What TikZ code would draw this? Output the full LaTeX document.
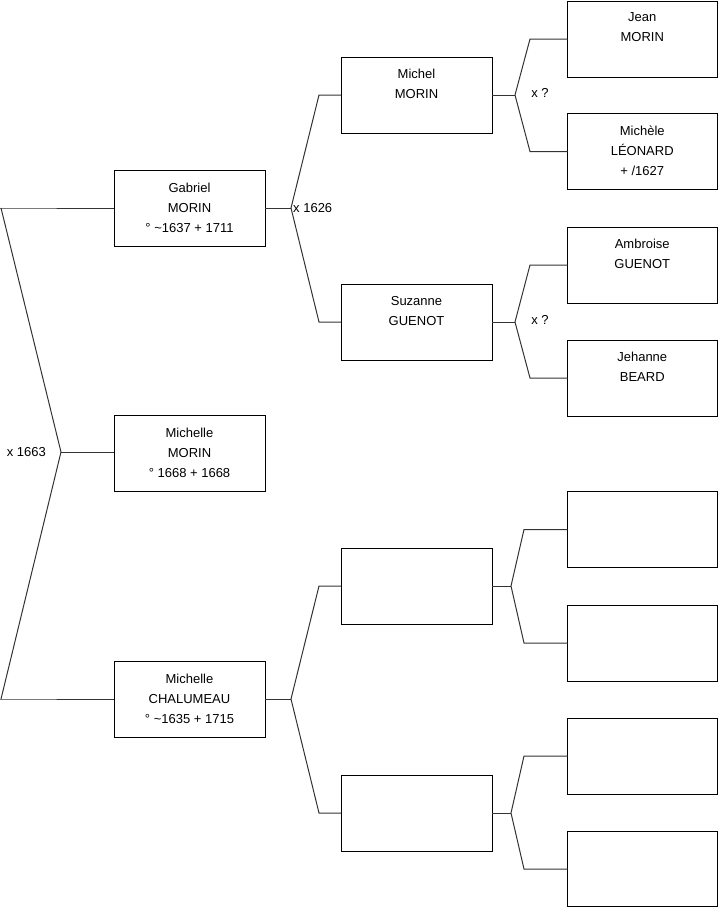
\documentclass[tikz,border=0pt]{standalone}
\usepackage{fontspec}
\setmainfont{Liberation Sans}
\begin{document}
\begin{tikzpicture}[x=1pt,y=-1pt,
  box/.style={draw=black, line width=1pt, minimum width=151pt, minimum height=76pt, inner sep=0pt, outer sep=0pt, anchor=north west},
  rbox/.style={box, minimum width=149.5pt},
  txt/.style={anchor=north, inner sep=0pt, align=center, font=\fontsize{13}{20}\selectfont},
  lbl/.style={inner sep=0pt, font=\fontsize{13}{16}\selectfont},
  conn/.style={draw=black!80, line width=1pt}]
\useasboundingbox (0,0) rectangle (719,908);
% generation 1
\node[box] (g1) at (114,170) {};
\node[box] (g2) at (114,415.5) {};
\node[box] (g3) at (114,661) {};
% generation 2
\node[box] (p1) at (341,57) {};
\node[box] (p2) at (341,284) {};
\node[box] (p3) at (341,548) {};
\node[box] (p4) at (341,775) {};
% generation 3
\node[rbox] (a1) at (567.5,1) {};
\node[rbox] (a2) at (567.5,113.5) {};
\node[rbox] (a3) at (567.5,227) {};
\node[rbox] (a4) at (567.5,340) {};
\node[rbox] (a5) at (567.5,491.5) {};
\node[rbox] (a6) at (567.5,605) {};
\node[rbox] (a7) at (567.5,718) {};
\node[rbox, minimum height=75pt] (a8) at (567.5,831.5) {};
% texts
\node[txt] (tg1) at ([yshift=-12.5pt]g1.north) {Gabriel\\MORIN\\° \textasciitilde 1637 + 1711};
\node[txt] (tg2) at ([yshift=-12.5pt]g2.north) {Michelle\\MORIN\\° 1668 + 1668};
\node[txt] (tg3) at ([yshift=-12.5pt]g3.north) {Michelle\\CHALUMEAU\\° \textasciitilde 1635 + 1715};
\node[txt] (tp1) at ([yshift=-12pt]p1.north) {Michel\\MORIN};
\node[txt] (tp2) at ([yshift=-12pt]p2.north) {Suzanne\\GUENOT};
\node[txt] (ta1) at ([yshift=-11pt]a1.north) {Jean\\MORIN};
\node[txt] (ta2) at ([yshift=-12pt]a2.north) {Michèle\\LÉONARD\\+ /1627};
\node[txt] (ta3) at ([yshift=-12pt]a3.north) {Ambroise\\GUENOT};
\node[txt] (ta4) at ([yshift=-12pt]a4.north) {Jehanne\\BEARD};
% junction coordinates
\coordinate (c0a) at (1,208);
\coordinate (v0) at (61,452);
\coordinate (c0b) at (1,699);
\coordinate (v1) at (291,208);
\coordinate (c1a) at (319,95);
\coordinate (c1b) at (319,322);
\coordinate (v2) at (291,699);
\coordinate (c2a) at (319,586);
\coordinate (c2b) at (319,813);
\coordinate (v3) at (515,95);
\coordinate (c3a) at (530,39);
\coordinate (c3b) at (530,151.5);
\coordinate (v4) at (515,322);
\coordinate (c4a) at (530,265);
\coordinate (c4b) at (530,378);
\coordinate (v5) at (511,586);
\coordinate (c5a) at (524,529.5);
\coordinate (c5b) at (524,643);
\coordinate (v6) at (511,813);
\coordinate (c6a) at (524,756);
\coordinate (c6b) at (524,869);
% connectors
\draw[conn] (0,208) -- (c0a) -- (g1.west);
\draw[conn] (0,699) -- (c0b) -- (g3.west);
\draw[conn] (c0a) -- (v0) -- (c0b);
\draw[conn] (v0) -- (g2.west |- v0);
\draw[conn] (g1.east) -- (v1);
\draw[conn] (p1.west) -- (c1a) -- (v1) -- (c1b) -- (p2.west);
\draw[conn] (g3.east) -- (v2);
\draw[conn] (p3.west) -- (c2a) -- (v2) -- (c2b) -- (p4.west);
\draw[conn] (p1.east) -- (v3);
\draw[conn] (a1.west) -- (c3a) -- (v3) -- (c3b) -- (a2.west);
\draw[conn] (p2.east) -- (v4);
\draw[conn] (a3.west) -- (c4a) -- (v4) -- (c4b) -- (a4.west);
\draw[conn] (p3.east) -- (v5);
\draw[conn] (a5.west) -- (c5a) -- (v5) -- (c5b) -- (a6.west);
\draw[conn] (p4.east) -- (v6);
\draw[conn] (a7.west) -- (c6a) -- (v6) -- (c6b) -- (a8.west);
% marriage labels
\node[lbl, anchor=east] (m0) at ([xshift=-15pt]v0) {x 1663};
\node[lbl, anchor=west] (m1) at ([xshift=2pt]v1) {x 1626};
\node[lbl] (m3) at (540,93) {x ?};
\node[lbl] (m4) at (540,320) {x ?};
\end{tikzpicture}
\end{document}
